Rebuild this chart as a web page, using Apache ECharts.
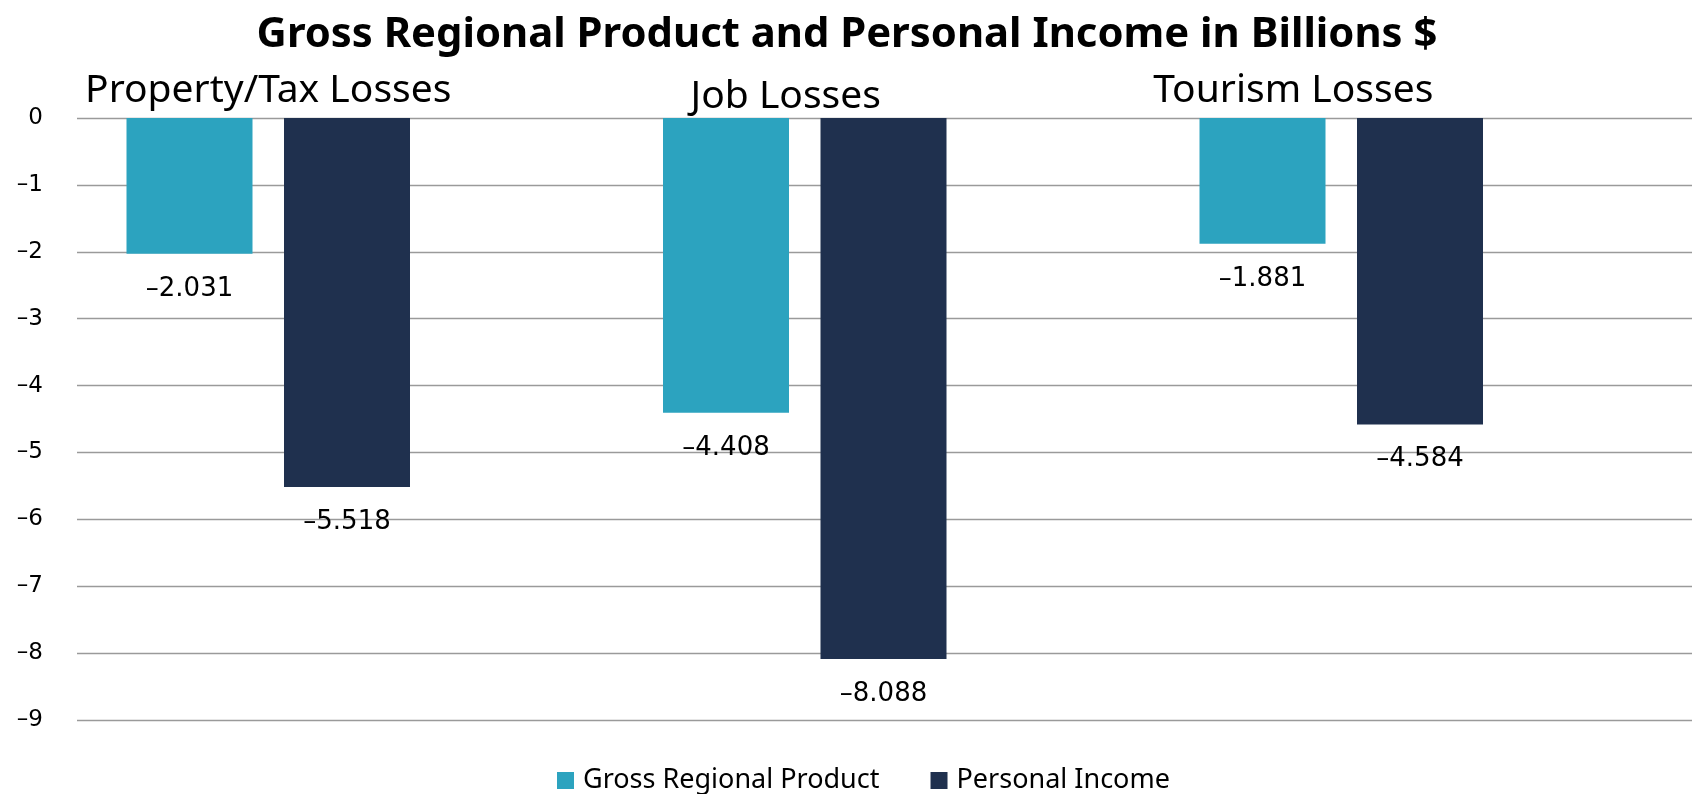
<!DOCTYPE html>
<html>
<head>
<meta charset="utf-8">
<script src="https://cdn.jsdelivr.net/npm/echarts@6/dist/echarts.min.js"></script>
<style>
html,body{margin:0;padding:0;background:#fff;}
#chart{width:1694px;height:794px;}
</style>
</head>
<body>
<div id="chart"></div>
<script>
const titleText = 'Gross Regional Product and Personal Income in Billions $';
const categories = ['Property/Tax Losses', 'Job Losses', 'Tourism Losses'];
const seriesNames = ['Gross Regional Product', 'Personal Income'];
const grossRegionalProduct = [-2.031, -4.408, -1.881];
const personalIncome = [-5.518, -8.088, -4.584];
const yTicks = [0, -1, -2, -3, -4, -5, -6, -7, -8, -9];

const colors = ['#2CA3BF', '#1F304E'];
const fmtNeg = v => String(v).replace('-', '\u2013');

const chart = echarts.init(document.getElementById('chart'));
const labelFont = 'DejaVu Sans';
const catFont = 'Noto Sans';

function barSeries(name, data, color) {
  return {
    name: name,
    type: 'bar',
    xAxisIndex: 0,
    yAxisIndex: 0,
    data: data,
    barWidth: 126,
    barGap: '25%',
    itemStyle: { color: color },
    label: {
      show: true,
      position: 'bottom',
      distance: 22,
      color: '#000',
      fontFamily: labelFont,
      fontSize: 26,
      formatter: p => fmtNeg(p.value)
    },
    emphasis: { disabled: true }
  };
}

chart.setOption({
  animation: false,
  backgroundColor: '#fff',
  color: colors,
  title: {
    text: titleText,
    left: 'center',
    top: 14,
    padding: [0, 0, 0, 32],
    textStyle: { fontFamily: catFont, fontWeight: 'bold', fontSize: 41.8, color: '#000' }
  },
  legend: {
    data: seriesNames,
    left: 552,
    top: 762,
    icon: 'rect',
    itemWidth: 17,
    itemHeight: 17,
    itemGap: 51,
    textStyle: { fontFamily: catFont, fontSize: 27, color: '#000', padding: [0, 0, 0, 4] }
  },
  grid: [
    { left: -1, right: 84.5, top: 118, height: 602, containLabel: false },
    { left: 77, right: 2, top: 118, height: 602, containLabel: false }
  ],
  xAxis: [
    {
      gridIndex: 0,
      type: 'category',
      data: categories,
      position: 'top',
      axisLine: { show: false },
      axisTick: { show: false },
      axisLabel: {
        interval: 0,
        margin: 2,
        fontFamily: catFont,
        fontSize: 39,
        color: '#000',
        formatter: (v, i) => '{c' + i + '|' + v + '}',
        rich: {
          c0: { fontFamily: catFont, fontSize: 39, color: '#000', padding: [0, 0, 6, 0] },
          c1: { fontFamily: catFont, fontSize: 39, color: '#000', padding: [0, 38, 0, 0] },
          c2: { fontFamily: catFont, fontSize: 39, color: '#000', padding: [0, 96, 6, 0] }
        }
      }
    },
    {
      gridIndex: 1,
      type: 'category',
      data: categories,
      show: false
    }
  ],
  yAxis: [
    {
      gridIndex: 0,
      type: 'value',
      min: yTicks[yTicks.length - 1],
      max: yTicks[0],
      interval: 1,
      show: false,
      splitLine: { show: false }
    },
    {
      gridIndex: 1,
      type: 'value',
      min: yTicks[yTicks.length - 1],
      max: yTicks[0],
      interval: 1,
      axisLine: { show: false },
      axisTick: { show: false },
      axisLabel: {
        margin: 34,
        fontFamily: labelFont,
        fontSize: 23,
        color: '#000',
        formatter: v => fmtNeg(v)
      },
      splitLine: { show: true, lineStyle: { color: '#9a9a9a', width: 1.3 } }
    }
  ],
  series: [
    barSeries(seriesNames[0], grossRegionalProduct, colors[0]),
    barSeries(seriesNames[1], personalIncome, colors[1])
  ]
});
</script>
</body>
</html>
